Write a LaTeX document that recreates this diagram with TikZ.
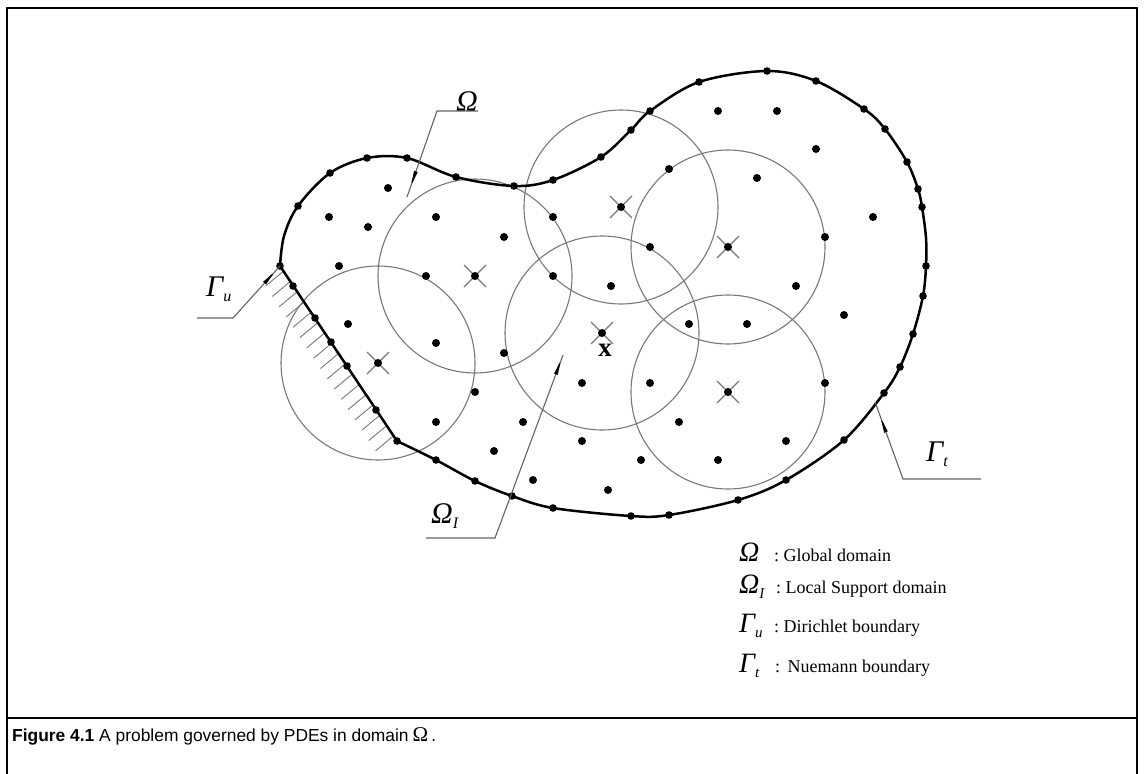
\documentclass[tikz,border=0pt]{standalone}
\usepackage{fontspec}
\setmainfont{Liberation Serif}
\newfontfamily\capfont{Liberation Sans}
\usetikzlibrary{calc,arrows.meta,decorations.markings}
\pgfdeclarelayer{bg}
\pgfsetlayers{bg,main}
\definecolor{circgray}{RGB}{120,120,120}
\definecolor{leadgray}{RGB}{100,100,100}

% italic greek symbol with lowered italic index
\newcommand{\bigsym}[2]{{\fontsize{30}{30}\selectfont\itshape #1}\raisebox{-5pt}{\fontsize{16}{16}\selectfont\itshape #2}}
\newcommand{\legsym}[2]{{\fontsize{28}{28}\selectfont\itshape #1}\raisebox{-5pt}{\fontsize{15}{15}\selectfont\itshape #2}}

\begin{document}
\begin{tikzpicture}[x=1pt,y=-1pt,
    bnd/.style={black, line width=2.5pt, line join=round},
    supp/.style={circgray, line width=1.1pt},
    hatch/.style={circgray, line width=0.9pt},
    leader/.style={leadgray, line width=1.1pt,
      decoration={markings, mark=at position #1 with {\arrow[black]{Latex[length=20pt,width=4pt]}}},
      postaction={decorate}},
    leader/.default=-0.5pt,
    lbl/.style={inner sep=0pt, anchor=base west},
    legtxt/.style={inner sep=0pt, anchor=base west, font=\fontsize{18}{18}\selectfont}]
  \useasboundingbox (0,0) rectangle (1144,774);

  % frame and caption box
  \draw[line width=2.4pt] (7,774) -- (7,8) -- (1137,8) -- (1137,774);
  \draw[line width=2.4pt] (7,718) -- (1137,718);
  \node[lbl] (caption) at (12,741)
    {\capfont\fontsize{17.4}{20}\selectfont\textbf{Figure 4.1} A problem governed by PDEs in domain\hspace{4pt}{\rmfamily\fontsize{21}{21}\selectfont Ω}\hspace{3pt}.};

  % Dirichlet edge end points
  \coordinate (gutop) at (280,266);
  \coordinate (gubot) at (397,441);

  \begin{pgfonlayer}{bg}
    % local support domains
    \foreach \x/\y in {475/276, 621/207, 728/247, 378/363, 602/333, 728/392}
      \draw[supp] (\x,\y) circle[radius=97pt];
    % hatching of the fixed edge
    \foreach \k in {1,...,17}
      \draw[hatch] ($(gutop)!{(\k-0.5)/17}!(gubot)$) -- ++(-18,15);
  \end{pgfonlayer}

  % domain boundary
  \draw[bnd] plot[smooth, tension=0.55] coordinates {(280,266) (284,236) (298,206) (330,173) (367,158)
    (407,158) (456,177) (514,186) (553,180) (601,157) (631,130) (650,111) (699,82) (767,71)
    (816,81) (864,109) (885,129) (907,162) (918,189) (922,207) (926,238) (926,266) (923,296) (913,334)
    (900,367) (884,393) (844,440) (786,480) (738,500) (669,515) (631,516) (553,508) (512,496)
    (475,481) (436,460) (397,441)} -- cycle;

  % boundary nodes
  \foreach \x/\y in {280/266, 298/206, 330/173, 367/158, 407/158, 456/177, 514/186, 553/180,
      601/157, 631/130, 650/111, 699/82, 767/71, 816/81, 864/109, 885/129, 907/162, 918/189,
      922/207, 926/266, 923/296, 913/334, 900/367, 884/393, 844/440, 786/480, 738/500, 669/515,
      631/516, 553/508, 512/496, 475/481, 436/460, 397/441, 293/286, 315/318, 331/342, 347/366, 376/410}
    \fill (\x,\y) circle[radius=3.8pt];

  % field nodes
  \foreach \x/\y in {388/188, 329/217, 368/227, 436/217, 504/237, 553/217, 339/266, 426/276, 553/276,
      718/111, 777/111, 816/149, 757/178, 873/217, 669/169, 650/247, 825/237, 611/286, 796/286,
      348/324, 436/343, 504/353, 475/392, 436/422, 523/422, 494/451, 533/480, 582/383, 582/441, 608/490,
      844/315, 689/324, 747/324, 650/383, 825/383, 679/422, 786/441, 641/460, 718/460}
    \fill (\x,\y) circle[radius=4pt];

  % centres of the support domains
  \foreach \x/\y in {475/276, 621/207, 728/247, 378/363, 602/333, 728/392} {
    \draw[supp] (\x-11,\y-11) -- (\x+11,\y+11) (\x-11,\y+11) -- (\x+11,\y-11);
    \fill (\x,\y) circle[radius=4pt];
  }
  \node[inner sep=0pt] (xpt) at (605,350) {\fontsize{27}{27}\selectfont\bfseries x};

  % labels with leaders
  \node[lbl, anchor=base east] (omlbl) at (478,111) {\bigsym{Ω}{}};
  \coordinate (omkink) at (437,111);
  \coordinate (omtip) at (407,197);
  \draw[leader=-7pt] (omlbl.base east) -- (omkink) -- (omtip);

  \node[lbl] (gulbl) at (206,296) {\bigsym{Γ}{u}};
  \coordinate (guend) at (197,318);
  \coordinate (gukink) at (233,318);
  \draw[leader=-3pt] (guend) -- (gukink) -- (gutop);

  \node[lbl] (oilbl) at (431,523) {\bigsym{Ω}{I}};
  \coordinate (oiend) at (426,538);
  \coordinate (oikink) at (495,538);
  \coordinate (oitip) at (563,355);
  \draw[leader] (oiend) -- (oikink) -- (oitip);

  \node[lbl] (gtlbl) at (926,461) {\bigsym{Γ}{t}};
  \coordinate (gtend) at (981,479);
  \coordinate (gtkink) at (903,479);
  \coordinate (gttip) at (875,402);
  \draw[leader=-12pt] (gtend) -- (gtkink) -- (gttip);

  % legend
  \node[lbl] (lgom) at (739,561) {\legsym{Ω}{}};
  \node[legtxt] (lgomt) at (774,561) {:\ Global domain};
  \node[lbl] (lgoi) at (739,593) {\legsym{Ω}{I}};
  \node[legtxt] (lgoit) at (776,593) {:\ Local Support domain};
  \node[lbl] (lggu) at (739,632) {\legsym{Γ}{u}};
  \node[legtxt] (lggut) at (774,632) {:\ Dirichlet boundary};
  \node[lbl] (lggt) at (739,672) {\legsym{Γ}{t}};
  \node[legtxt] (lggtt) at (775,672) {:\ \,Nuemann boundary};
\end{tikzpicture}
\end{document}
